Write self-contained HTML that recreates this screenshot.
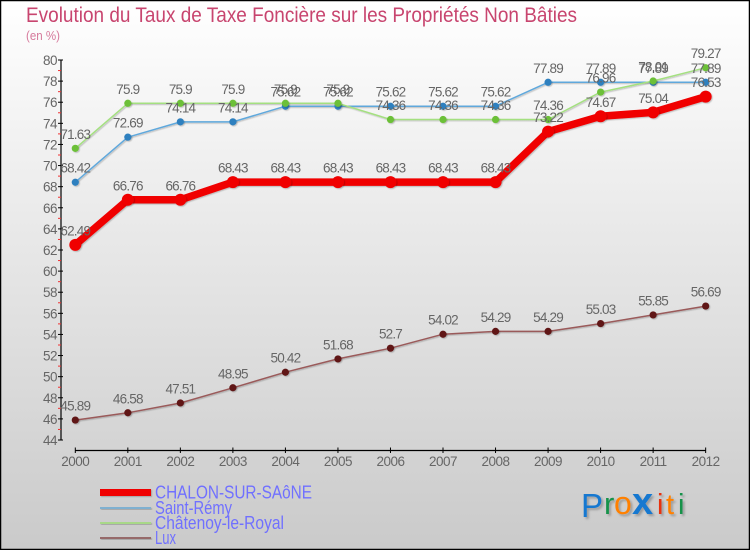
<!DOCTYPE html>
<html lang="fr">
<head>
<meta charset="utf-8">
<title>Evolution du Taux de Taxe Foncière</title>
<style>
html,body{margin:0;padding:0;background:#fff}
svg{display:block}
text{font-family:"Liberation Sans",sans-serif}
</style>
</head>
<body>
<svg id="chart" width="750" height="550" viewBox="0 0 750 550" xmlns="http://www.w3.org/2000/svg">
<defs>
<linearGradient id="bg" x1="0" y1="0" x2="0" y2="1">
<stop offset="0" stop-color="#ffffff"/>
<stop offset="1" stop-color="#cacaca"/>
</linearGradient>
<filter id="sh" x="-30%" y="-30%" width="160%" height="160%">
<feDropShadow dx="1" dy="1" stdDeviation="0.6" flood-color="#000" flood-opacity="0.22"/>
</filter>
<filter id="logoSh" x="-10%" y="-10%" width="130%" height="130%">
<feDropShadow dx="2" dy="2" stdDeviation="1" flood-color="#000" flood-opacity="0.25"/>
</filter>
</defs>
<rect x="0.5" y="0.5" width="749" height="549" fill="url(#bg)" stroke="#000" stroke-width="1.5"/>
<text x="26" y="22" font-size="21.5" fill="#c8456f" textLength="551" lengthAdjust="spacingAndGlyphs">Evolution du Taux de Taxe Foncière sur les Propriétés Non Bâties</text>
<text x="26" y="40" font-size="12.5" fill="#d67a9c" textLength="34" lengthAdjust="spacingAndGlyphs">(en %)</text>
<g id="axes"></g>
<g id="series"></g>
<g id="legend"></g>
<g filter="url(#logoSh)">
<text x="581" y="517" font-size="33" fill="#1478d0">P</text>
<text x="604" y="514" font-size="31" fill="#12924a">r</text>
<text x="614" y="514" font-size="32" fill="#ff8000">o</text>
<text x="632" y="514" font-size="38" font-weight="bold" fill="#1478d0">x</text>
<text x="657" y="514" font-size="29" fill="#e83010">i</text>
<text x="666" y="514" font-size="29" fill="#ff8000">t</text>
<text x="678" y="514" font-size="29" fill="#12924a">i</text>
</g>
</svg>
<script>
const years = [2000,2001,2002,2003,2004,2005,2006,2007,2008,2009,2010,2011,2012];
const chalonValues = [62.49,66.76,66.76,68.43,68.43,68.43,68.43,68.43,68.43,73.22,74.67,75.04,76.53];
const saintRemyValues = [68.42,72.69,74.14,74.14,75.62,75.62,75.62,75.62,75.62,77.89,77.89,77.89,77.89];
const chatenoyValues = [71.63,75.9,75.9,75.9,75.9,75.9,74.36,74.36,74.36,74.36,76.96,78.01,79.27];
const luxValues = [45.89,46.58,47.51,48.95,50.42,51.68,52.7,54.02,54.29,54.29,55.03,55.85,56.69];
const yTickValues = [44,46,48,50,52,54,56,58,60,62,64,66,68,70,72,74,76,78,80];
const legendNames = ["CHALON-SUR-SAôNE","Saint-Rémy","Châtenoy-le-Royal","Lux"];

const NS = "http://www.w3.org/2000/svg";
function xScale(i){ return 75.3 + i * 52.53; }
function yScale(v){ return 440 - (v - 44) * (380 / 36); }
function mk(tag, attrs, parent){
  const el = document.createElementNS(NS, tag);
  for (const k in attrs) el.setAttribute(k, attrs[k]);
  parent.appendChild(el);
  return el;
}
const axes = document.getElementById("axes");
const seriesLayer = document.getElementById("series");
const legend = document.getElementById("legend");

const yAxisLine = mk("line", {x1:61, x2:61, y1:yScale(80), y2:yScale(44), stroke:"#000", "stroke-width":1.2}, axes);


const xAxisLine = mk("line", {x1:xScale(0), x2:xScale(years.length - 1), y1:450.5, y2:450.5, stroke:"#000", "stroke-width":1.2}, axes);



yTickValues.forEach(function(v){
  const y = yScale(v);
  const tick = mk("line", {x1:58, x2:63, y1:y, y2:y, stroke:"#000", "stroke-width":1}, axes);
  
  
  const lab = mk("text", {x:57, y:y + 5, "text-anchor":"end", "font-size":13.5, "letter-spacing":"-0.5", fill:"#666"}, axes);
  lab.textContent = v;
  
  
  if (v < 80) {
    const my = yScale(v + 1);
    const minor = mk("line", {x1:58, x2:61, y1:my, y2:my, stroke:"#f03030", "stroke-width":1}, axes);
    
    
  }
});

years.forEach(function(yr, i){
  const x = xScale(i);
  const tick = mk("line", {x1:x, x2:x, y1:447.5, y2:453, stroke:"#000", "stroke-width":1}, axes);
  
  
  const lab = mk("text", {x:x, y:466, "text-anchor":"middle", "font-size":13.5, "letter-spacing":"-0.5", fill:"#666"}, axes);
  lab.textContent = yr;
  
  
});

function drawSeries(values, name, lineColor, pointColor, lineWidth, radius){
  const g = mk("g", {}, seriesLayer);
  
  
  const pts = values.map(function(v, i){ return xScale(i).toFixed(1) + "," + yScale(v).toFixed(1); }).join(" ");
  const line = mk("polyline", {points:pts, fill:"none", stroke:lineColor, "stroke-width":lineWidth, "stroke-linejoin":"round", filter:"url(#sh)"}, g);
  
  
  values.forEach(function(v, i){
    const dot = mk("circle", {cx:xScale(i), cy:yScale(v), r:radius, fill:pointColor, filter:"url(#sh)"}, g);
    
    
  });
}
function drawLabels(values, name){
  values.forEach(function(v, i){
    const t = mk("text", {x:xScale(i), y:yScale(v) - 9.5, "text-anchor":"middle", "font-size":13.5, "letter-spacing":"-0.8", fill:"#666"}, seriesLayer);
    t.textContent = String(v);
    
    
  });
}
drawSeries(luxValues, "lux", "#9a5a5a", "#601818", 1.5, 3.6);
drawSeries(saintRemyValues, "saint-remy", "#5fa8dc", "#2f80bf", 1.5, 3.6);
drawSeries(chatenoyValues, "chatenoy", "#a4e080", "#6cc038", 1.5, 3.6);
drawSeries(chalonValues, "chalon", "#f00000", "#f00000", 7.5, 6);
drawLabels(chalonValues, "chalon");
drawLabels(saintRemyValues, "saint-remy");
drawLabels(chatenoyValues, "chatenoy");
drawLabels(luxValues, "lux");

const legendColors = ["#f00000","#7fb0d0","#a8d888","#966a6a"];
const legendHeights = [7, 2, 2, 2];
const legendWidths = [157, 77, 129, 21];
legendNames.forEach(function(n, i){
  const cy = i === 0 ? 492.5 : 508 + (i - 1) * 15;
  const sw = mk("rect", {x:100, y:cy - legendHeights[i] / 2, width:51, height:legendHeights[i], fill:legendColors[i], filter:"url(#sh)"}, legend);
  
  
  const t = mk("text", {x:155, y:cy + 6, "font-size":18, fill:"#7070ff", textLength:legendWidths[i], lengthAdjust:"spacingAndGlyphs"}, legend);
  t.textContent = n;
  
  
});
</script>
</body>
</html>
